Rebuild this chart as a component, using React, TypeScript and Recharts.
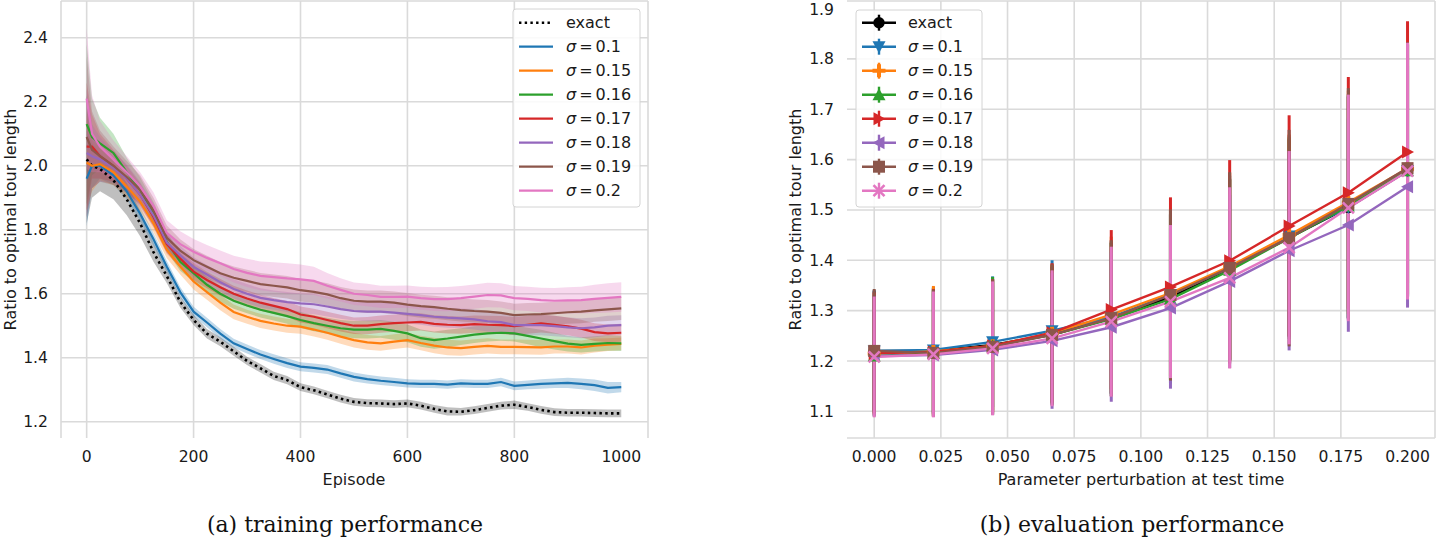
import React from "react";
import { ComposedChart, LineChart, Line, Area, XAxis, YAxis, CartesianGrid, ErrorBar } from "recharts";

// ---- (a) training performance ----
const EPISODES = [0, 10, 25, 50, 75, 100, 125, 150, 175, 200, 225, 250, 275, 300, 325, 350, 375, 400, 425, 450, 475, 500, 525, 550, 575, 600, 625, 650, 675, 700, 725, 750, 775, 800, 825, 850, 875, 900, 925, 950, 975, 1000];

const TRAIN_EXACT = [2.02, 2.0, 1.99, 1.955, 1.895, 1.82, 1.73, 1.655, 1.575, 1.518, 1.475, 1.45, 1.42, 1.39, 1.367, 1.343, 1.33, 1.308, 1.298, 1.285, 1.272, 1.262, 1.258, 1.257, 1.255, 1.257, 1.25, 1.24, 1.232, 1.231, 1.236, 1.243, 1.25, 1.253, 1.246, 1.237, 1.23, 1.228, 1.228, 1.227, 1.226, 1.226];
const TRAIN_S010 = [1.96, 2.0, 2.0, 1.97, 1.92, 1.85, 1.77, 1.684, 1.605, 1.544, 1.51, 1.475, 1.445, 1.427, 1.41, 1.396, 1.383, 1.372, 1.368, 1.363, 1.351, 1.34, 1.333, 1.328, 1.324, 1.32, 1.318, 1.318, 1.316, 1.32, 1.318, 1.318, 1.324, 1.312, 1.315, 1.318, 1.32, 1.321, 1.318, 1.314, 1.306, 1.308];
const TRAIN_S015 = [2.01, 2.0, 2.005, 1.98, 1.935, 1.888, 1.82, 1.737, 1.685, 1.638, 1.605, 1.572, 1.543, 1.528, 1.515, 1.507, 1.5, 1.497, 1.488, 1.478, 1.466, 1.455, 1.448, 1.445, 1.45, 1.455, 1.446, 1.438, 1.432, 1.43, 1.434, 1.437, 1.434, 1.434, 1.433, 1.432, 1.435, 1.435, 1.432, 1.438, 1.441, 1.443];
const TRAIN_S016 = [2.13, 2.09, 2.07, 2.04, 1.98, 1.924, 1.852, 1.762, 1.7, 1.664, 1.628, 1.6, 1.578, 1.563, 1.55, 1.54, 1.53, 1.518, 1.508, 1.5, 1.492, 1.488, 1.488, 1.49, 1.484, 1.476, 1.461, 1.455, 1.46, 1.466, 1.472, 1.476, 1.478, 1.476, 1.468, 1.46, 1.452, 1.444, 1.44, 1.443, 1.446, 1.445];
const TRAIN_S017 = [2.06, 2.06, 2.03, 2.0, 1.96, 1.91, 1.84, 1.755, 1.71, 1.669, 1.643, 1.62, 1.6, 1.585, 1.572, 1.562, 1.552, 1.535, 1.528, 1.518, 1.508, 1.5, 1.5, 1.505, 1.508, 1.51, 1.512, 1.506, 1.503, 1.502, 1.505, 1.503, 1.502, 1.499, 1.503, 1.507, 1.503, 1.498, 1.491, 1.48, 1.476, 1.478];
const TRAIN_S018 = [2.04, 2.03, 2.02, 1.995, 1.96, 1.91, 1.845, 1.76, 1.72, 1.684, 1.66, 1.636, 1.615, 1.6, 1.587, 1.58, 1.574, 1.57, 1.567, 1.56, 1.552, 1.546, 1.544, 1.544, 1.541, 1.537, 1.533, 1.528, 1.525, 1.523, 1.52, 1.514, 1.511, 1.502, 1.502, 1.502, 1.499, 1.495, 1.492, 1.495, 1.5, 1.502];
const TRAIN_S019 = [2.09, 2.05, 2.03, 2.0, 1.965, 1.925, 1.86, 1.775, 1.735, 1.705, 1.684, 1.664, 1.65, 1.64, 1.63, 1.625, 1.62, 1.611, 1.606, 1.598, 1.586, 1.578, 1.575, 1.575, 1.572, 1.566, 1.561, 1.558, 1.553, 1.549, 1.546, 1.544, 1.54, 1.533, 1.535, 1.536, 1.539, 1.542, 1.544, 1.548, 1.551, 1.554];
const TRAIN_S020 = [2.21, 2.1, 2.06, 2.02, 1.98, 1.935, 1.875, 1.79, 1.755, 1.731, 1.712, 1.695, 1.677, 1.665, 1.656, 1.652, 1.648, 1.645, 1.64, 1.625, 1.612, 1.6, 1.596, 1.59, 1.59, 1.591, 1.586, 1.583, 1.583, 1.586, 1.591, 1.596, 1.595, 1.586, 1.584, 1.58, 1.578, 1.579, 1.58, 1.584, 1.587, 1.59];

// half-width of the shaded bands
const SPREAD_EXACT = [0.2, 0.1, 0.07, 0.06, 0.05, 0.04, 0.03, 0.022, 0.018, 0.016, 0.015, 0.014, 0.014, 0.013, 0.013, 0.013, 0.013, 0.012, 0.012, 0.012, 0.012, 0.012, 0.012, 0.012, 0.012, 0.012, 0.012, 0.012, 0.013, 0.012, 0.012, 0.012, 0.012, 0.013, 0.012, 0.012, 0.012, 0.012, 0.012, 0.012, 0.012, 0.012];
const SPREAD_S010 = [0.15, 0.07, 0.04, 0.03, 0.025, 0.022, 0.02, 0.018, 0.016, 0.015, 0.015, 0.015, 0.014, 0.014, 0.014, 0.015, 0.015, 0.014, 0.014, 0.014, 0.014, 0.014, 0.014, 0.013, 0.013, 0.013, 0.013, 0.013, 0.013, 0.013, 0.013, 0.013, 0.013, 0.014, 0.014, 0.015, 0.015, 0.016, 0.017, 0.018, 0.018, 0.016];
const SPREAD_S015 = [0.15, 0.08, 0.05, 0.04, 0.035, 0.03, 0.028, 0.026, 0.025, 0.025, 0.024, 0.024, 0.023, 0.022, 0.022, 0.022, 0.022, 0.022, 0.022, 0.022, 0.022, 0.023, 0.023, 0.023, 0.023, 0.023, 0.023, 0.024, 0.024, 0.024, 0.024, 0.024, 0.023, 0.023, 0.023, 0.023, 0.022, 0.022, 0.022, 0.022, 0.02, 0.02];
const SPREAD_S016 = [0.25, 0.12, 0.08, 0.06, 0.045, 0.04, 0.035, 0.03, 0.028, 0.026, 0.025, 0.025, 0.025, 0.024, 0.024, 0.024, 0.024, 0.025, 0.025, 0.025, 0.026, 0.027, 0.028, 0.028, 0.028, 0.028, 0.027, 0.027, 0.027, 0.026, 0.026, 0.025, 0.025, 0.025, 0.026, 0.027, 0.026, 0.025, 0.024, 0.024, 0.024, 0.024];
const SPREAD_S017 = [0.2, 0.1, 0.07, 0.05, 0.04, 0.035, 0.032, 0.03, 0.028, 0.027, 0.026, 0.026, 0.025, 0.025, 0.025, 0.025, 0.025, 0.025, 0.025, 0.026, 0.026, 0.026, 0.027, 0.027, 0.027, 0.027, 0.027, 0.027, 0.027, 0.027, 0.027, 0.028, 0.028, 0.028, 0.028, 0.028, 0.028, 0.028, 0.028, 0.028, 0.028, 0.028];
const SPREAD_S018 = [0.2, 0.1, 0.07, 0.05, 0.045, 0.04, 0.035, 0.032, 0.03, 0.03, 0.03, 0.03, 0.03, 0.03, 0.03, 0.03, 0.031, 0.031, 0.031, 0.031, 0.03, 0.03, 0.03, 0.03, 0.03, 0.03, 0.03, 0.031, 0.031, 0.031, 0.032, 0.032, 0.032, 0.032, 0.032, 0.032, 0.032, 0.031, 0.031, 0.031, 0.031, 0.031];
const SPREAD_S019 = [0.25, 0.12, 0.08, 0.06, 0.05, 0.045, 0.04, 0.038, 0.035, 0.035, 0.035, 0.035, 0.035, 0.035, 0.035, 0.035, 0.035, 0.035, 0.035, 0.035, 0.035, 0.035, 0.035, 0.035, 0.035, 0.036, 0.036, 0.036, 0.036, 0.036, 0.036, 0.036, 0.036, 0.036, 0.036, 0.036, 0.036, 0.036, 0.036, 0.036, 0.036, 0.036];
const SPREAD_S020 = [0.22, 0.12, 0.08, 0.06, 0.05, 0.045, 0.042, 0.04, 0.04, 0.04, 0.04, 0.04, 0.042, 0.044, 0.045, 0.046, 0.047, 0.046, 0.044, 0.04, 0.036, 0.035, 0.035, 0.035, 0.035, 0.035, 0.036, 0.037, 0.038, 0.038, 0.038, 0.038, 0.038, 0.038, 0.038, 0.039, 0.04, 0.041, 0.042, 0.044, 0.046, 0.046];

// ---- (b) evaluation performance ----
const PERTURB = [0, 0.0222, 0.0444, 0.0667, 0.0889, 0.1111, 0.1333, 0.1556, 0.1778, 0.2];

const EVAL_EXACT = [1.22, 1.22, 1.232, 1.252, 1.285, 1.327, 1.382, 1.445, 1.505, 1.578];
const EVAL_S010 = [1.22, 1.222, 1.238, 1.26, 1.287, 1.332, 1.385, 1.448, 1.505, 1.578];
const EVAL_S015 = [1.215, 1.219, 1.23, 1.255, 1.292, 1.335, 1.388, 1.45, 1.515, 1.582];
const EVAL_S016 = [1.21, 1.215, 1.23, 1.252, 1.283, 1.323, 1.38, 1.444, 1.508, 1.578];
const EVAL_S017 = [1.215, 1.218, 1.23, 1.256, 1.302, 1.347, 1.399, 1.468, 1.534, 1.615];
const EVAL_S018 = [1.21, 1.212, 1.222, 1.24, 1.267, 1.305, 1.358, 1.419, 1.47, 1.546];
const EVAL_S019 = [1.22, 1.216, 1.228, 1.252, 1.285, 1.331, 1.385, 1.444, 1.512, 1.583];
const EVAL_S020 = [1.208, 1.213, 1.225, 1.245, 1.278, 1.318, 1.365, 1.425, 1.504, 1.577];

const ERR_EXACT = [0.12, 0.125, 0.13, 0.135, 0.15, 0.165, 0.18, 0.195, 0.22, 0.25];
const ERR_S010 = [0.12, 0.125, 0.13, 0.14, 0.152, 0.168, 0.183, 0.2, 0.222, 0.252];
const ERR_S015 = [0.12, 0.13, 0.132, 0.138, 0.155, 0.17, 0.185, 0.2, 0.222, 0.252];
const ERR_S016 = [0.12, 0.125, 0.137, 0.138, 0.152, 0.168, 0.18, 0.2, 0.222, 0.252];
const ERR_S017 = [0.122, 0.125, 0.132, 0.138, 0.158, 0.178, 0.2, 0.22, 0.23, 0.26];
const ERR_S018 = [0.12, 0.122, 0.128, 0.135, 0.148, 0.16, 0.172, 0.198, 0.212, 0.24];
const ERR_S019 = [0.123, 0.126, 0.134, 0.14, 0.155, 0.17, 0.19, 0.215, 0.23, 0.25];
const ERR_S020 = [0.12, 0.125, 0.133, 0.135, 0.149, 0.152, 0.18, 0.192, 0.225, 0.255];

const TRAIN_X_TICKS = [0, 200, 400, 600, 800, 1000];
const TRAIN_Y_TICKS = [1.2, 1.4, 1.6, 1.8, 2.0, 2.2, 2.4];
const EVAL_X_TICKS = [0, 0.025, 0.05, 0.075, 0.1, 0.125, 0.15, 0.175, 0.2];
const EVAL_Y_TICKS = [1.1, 1.2, 1.3, 1.4, 1.5, 1.6, 1.7, 1.8, 1.9];

const KEYS = ["exact", "s010", "s015", "s016", "s017", "s018", "s019", "s020"];
const LABELS = ["exact", "0.1", "0.15", "0.16", "0.17", "0.18", "0.19", "0.2"];
const COLORS = ["#000000", "#1f77b4", "#ff7f0e", "#2ca02c", "#d62728", "#9467bd", "#8c564b", "#e377c2"];
const MARKERS = ["o", "v", "P", "^", ">", "<", "s", "x"];

const TRAIN = [TRAIN_EXACT, TRAIN_S010, TRAIN_S015, TRAIN_S016, TRAIN_S017, TRAIN_S018, TRAIN_S019, TRAIN_S020];
const SPREAD = [SPREAD_EXACT, SPREAD_S010, SPREAD_S015, SPREAD_S016, SPREAD_S017, SPREAD_S018, SPREAD_S019, SPREAD_S020];
const EVAL = [EVAL_EXACT, EVAL_S010, EVAL_S015, EVAL_S016, EVAL_S017, EVAL_S018, EVAL_S019, EVAL_S020];
const ERR = [ERR_EXACT, ERR_S010, ERR_S015, ERR_S016, ERR_S017, ERR_S018, ERR_S019, ERR_S020];

const trainData = EPISODES.map((ep, i) => {
  const row: Record<string, any> = { ep };
  KEYS.forEach((k, s) => {
    row[k] = TRAIN[s][i];
    row[k + "_band"] = [TRAIN[s][i] - SPREAD[s][i], TRAIN[s][i] + SPREAD[s][i]];
  });
  return row;
});

const evalData = PERTURB.map((p, i) => {
  const row: Record<string, any> = { p };
  KEYS.forEach((k, s) => {
    row[k] = EVAL[s][i];
    row[k + "_err"] = ERR[s][i];
  });
  return row;
});

const FONT = "DejaVu Sans";
const GRID = "#dadada";
const TICK = { fontSize: 15.6, fill: "#1a1a1a", fontFamily: FONT };

const TRAIN_X_DOMAIN = [-48, 1050];
const TRAIN_Y_DOMAIN = [1.149, 2.515];
const EVAL_X_DOMAIN = [-0.0102, 0.2103];
const EVAL_Y_DOMAIN = [1.047, 1.915];

function Marker({ cx, cy, shape, color, s = 6.5 }: any) {
  if (cx == null || cy == null) return null;
  switch (shape) {
    case "o":
      return <circle cx={cx} cy={cy} r={s - 0.8} fill={color} />;
    case "v":
      return <polygon points={`${cx - s},${cy - s + 1} ${cx + s},${cy - s + 1} ${cx},${cy + s}`} fill={color} />;
    case "^":
      return <polygon points={`${cx - s},${cy + s - 1} ${cx + s},${cy + s - 1} ${cx},${cy - s}`} fill={color} />;
    case ">":
      return <polygon points={`${cx - s + 1},${cy - s} ${cx - s + 1},${cy + s} ${cx + s},${cy}`} fill={color} />;
    case "<":
      return <polygon points={`${cx + s - 1},${cy - s} ${cx + s - 1},${cy + s} ${cx - s},${cy}`} fill={color} />;
    case "s":
      return <rect x={cx - s + 0.5} y={cy - s + 0.5} width={2 * s - 1} height={2 * s - 1} fill={color} />;
    case "P":
      return (
        <path d={`M${cx - s},${cy}H${cx + s}M${cx},${cy - s}V${cy + s}`} stroke={color} strokeWidth={4} />
      );
    case "x":
      return (
        <path
          d={`M${cx - s + 1},${cy - s + 1}L${cx + s - 1},${cy + s - 1}M${cx - s + 1},${cy + s - 1}L${cx + s - 1},${cy - s + 1}`}
          stroke={color}
          strokeWidth={2.6}
        />
      );
    default:
      return null;
  }
}

function SigmaLabel({ x, y, i }: any) {
  if (i === 0) {
    return (
      <text x={x} y={y} fontSize={16} fontFamily={FONT} fill="#1a1a1a">
        exact
      </text>
    );
  }
  return (
    <text x={x} y={y} fontSize={16} fontFamily={FONT} fill="#1a1a1a">
      <tspan fontStyle="italic">σ</tspan>
      <tspan dx={3}>=</tspan>
      <tspan dx={3}>{LABELS[i]}</tspan>
    </text>
  );
}

function TrainLegend({ x, y }: any) {
  return (
    <g>
      <rect x={x} y={y} width={127} height={198} rx={3} fill="#ffffff" fillOpacity={0.85} stroke="#d4d4d4" strokeWidth={1} />
      {KEYS.map((k, i) => {
        const cy = y + 13.7 + i * 24;
        return (
          <g key={k}>
            <line
              x1={x + 6}
              x2={x + 40}
              y1={cy}
              y2={cy}
              stroke={COLORS[i]}
              strokeWidth={i === 0 ? 2.4 : 2.2}
              strokeDasharray={i === 0 ? "2.4 3.3" : undefined}
            />
            <SigmaLabel x={x + 53} y={cy + 5.5} i={i} />
          </g>
        );
      })}
    </g>
  );
}

function EvalLegend({ x, y }: any) {
  return (
    <g>
      <rect x={x} y={y} width={126} height={197} rx={3} fill="#ffffff" fillOpacity={0.85} stroke="#d4d4d4" strokeWidth={1} />
      {KEYS.map((k, i) => {
        const cy = y + 12.7 + i * 24;
        const mx = x + 23;
        return (
          <g key={k}>
            <line x1={x + 6} x2={x + 40} y1={cy} y2={cy} stroke={COLORS[i]} strokeWidth={2.4} />
            <line x1={mx} x2={mx} y1={cy - 8} y2={cy + 8} stroke={COLORS[i]} strokeWidth={2.4} />
            <Marker cx={mx} cy={cy} shape={MARKERS[i]} color={COLORS[i]} />
            <SigmaLabel x={x + 52} y={cy + 5.5} i={i} />
          </g>
        );
      })}
    </g>
  );
}

function TrainChart() {
  return (
    <ComposedChart width={660} height={470} data={trainData} margin={{ top: 1, right: 12, bottom: 0, left: 0 }}>
      <CartesianGrid
        stroke={GRID}
        strokeWidth={1.6}
        verticalValues={[TRAIN_X_DOMAIN[0], ...TRAIN_X_TICKS, TRAIN_X_DOMAIN[1]]}
        horizontalValues={[TRAIN_Y_DOMAIN[0], ...TRAIN_Y_TICKS, TRAIN_Y_DOMAIN[1]]}
      />
      <XAxis
        dataKey="ep"
        type="number"
        domain={TRAIN_X_DOMAIN}
        ticks={TRAIN_X_TICKS}
        allowDataOverflow
        height={32}
        tick={TICK}
        tickLine={false}
        axisLine={false}
        tickMargin={7}
      />
      <YAxis
        type="number"
        domain={TRAIN_Y_DOMAIN}
        ticks={TRAIN_Y_TICKS}
        allowDataOverflow
        width={61}
        tick={TICK}
        tickLine={false}
        axisLine={false}
        tickMargin={7}
        tickFormatter={(v) => v.toFixed(1)}
      />
      {KEYS.flatMap((k, i) => [
        <Line
          key={k}
          dataKey={k}
          type="linear"
          stroke={COLORS[i]}
          strokeWidth={i === 0 ? 2.6 : 2.2}
          strokeDasharray={i === 0 ? "2.5 3.3" : undefined}
          dot={false}
          isAnimationActive={false}
        />,
        <Area
          key={k + "_band"}
          dataKey={k + "_band"}
          type="linear"
          stroke="none"
          fill={COLORS[i]}
          fillOpacity={i === 0 ? 0.25 : 0.28}
          isAnimationActive={false}
        />,
      ])}
    </ComposedChart>
  );
}

function EvalChart() {
  return (
    <LineChart width={650} height={470} data={evalData} margin={{ top: 1, right: 1, bottom: 0, left: 0 }}>
      <CartesianGrid
        stroke={GRID}
        strokeWidth={1.6}
        verticalValues={[EVAL_X_DOMAIN[0], ...EVAL_X_TICKS, EVAL_X_DOMAIN[1]]}
        horizontalValues={[EVAL_Y_DOMAIN[0], ...EVAL_Y_TICKS, EVAL_Y_DOMAIN[1]]}
      />
      <XAxis
        dataKey="p"
        type="number"
        domain={EVAL_X_DOMAIN}
        ticks={EVAL_X_TICKS}
        allowDataOverflow
        height={32}
        tick={TICK}
        tickLine={false}
        axisLine={false}
        tickMargin={7}
        tickFormatter={(v) => v.toFixed(3)}
      />
      <YAxis
        type="number"
        domain={EVAL_Y_DOMAIN}
        ticks={EVAL_Y_TICKS}
        allowDataOverflow
        width={61}
        tick={TICK}
        tickLine={false}
        axisLine={false}
        tickMargin={7}
        tickFormatter={(v) => v.toFixed(1)}
      />
      {KEYS.map((k, i) => (
        <Line
          key={k}
          dataKey={k}
          type="linear"
          stroke={COLORS[i]}
          strokeWidth={2.4}
          isAnimationActive={false}
          dot={(p: any) => (
            <Marker key={`${k}-${p.index}`} cx={p.cx} cy={p.cy} shape={MARKERS[i]} color={COLORS[i]} />
          )}
        >
          <ErrorBar dataKey={k + "_err"} width={0} stroke={COLORS[i]} strokeWidth={3} direction="y" isAnimationActive={false} />
        </Line>
      ))}
    </LineChart>
  );
}

export default function App() {
  const title = { fontSize: 16, fontFamily: FONT, fill: "#1a1a1a" };
  const caption = { fontSize: 22, fontFamily: "DejaVu Serif", fill: "#111" };
  return (
    <div style={{ position: "absolute", left: 0, top: 0, width: 1436, height: 540, background: "#fff" }}>
      <div style={{ position: "absolute", left: 0, top: 0 }}>
        <TrainChart />
      </div>
      <div style={{ position: "absolute", left: 786, top: 0 }}>
        <EvalChart />
      </div>
      <svg width={1436} height={540} style={{ position: "absolute", left: 0, top: 0, pointerEvents: "none" }}>
        <TrainLegend x={513} y={9} />
        <EvalLegend x={856} y={10} />
        <text x={354} y={485} textAnchor="middle" {...title}>Episode</text>
        <text x={1141} y={485} textAnchor="middle" {...title}>Parameter perturbation at test time</text>
        <text transform="translate(15.5,219.5) rotate(-90)" textAnchor="middle" {...title}>Ratio to optimal tour length</text>
        <text transform="translate(801,219.5) rotate(-90)" textAnchor="middle" {...title}>Ratio to optimal tour length</text>
        <text x={345} y={532} textAnchor="middle" {...caption}>(a) training performance</text>
        <text x={1132} y={532} textAnchor="middle" {...caption}>(b) evaluation performance</text>
      </svg>
    </div>
  );
}
